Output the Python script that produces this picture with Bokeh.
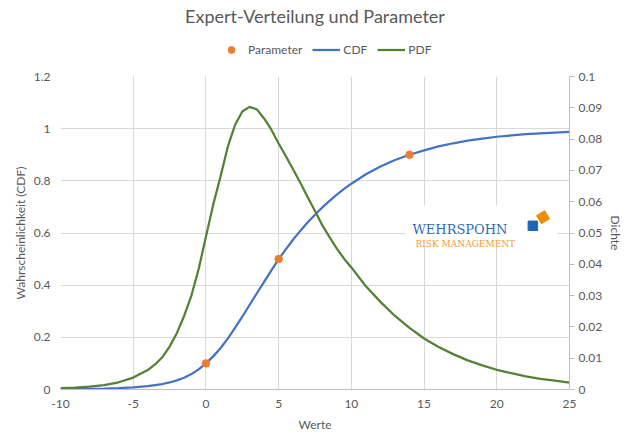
from bokeh.plotting import figure
from bokeh.layouts import column
from bokeh.models import (Range1d, LinearAxis, FixedTicker, Legend, LegendItem,
                          Label, BoxAnnotation)
from bokeh.embed import file_html
from bokeh.resources import INLINE

# ---------------- data ----------------
x_vals = [-10, -9, -8, -7, -6, -5, -4, -3.5, -3, -2.5, -2, -1.5, -1, -0.5, 0, 0.5,
          1, 1.5, 2, 2.5, 3, 3.5, 4, 4.5, 5, 5.5, 6, 6.5, 7, 7.5, 8, 8.5, 9, 9.5,
          10, 11, 12, 13, 14, 15, 16, 17, 18, 19, 20, 21, 22, 23, 24, 25]
cdf_vals = [0.001, 0.0015, 0.0022, 0.0033, 0.005, 0.008, 0.013, 0.017, 0.021, 0.027,
            0.035, 0.045, 0.059, 0.077, 0.100, 0.127, 0.158, 0.195, 0.236, 0.279,
            0.324, 0.369, 0.413, 0.457, 0.500, 0.538, 0.575, 0.609, 0.641, 0.670,
            0.698, 0.723, 0.747, 0.769, 0.789, 0.825, 0.855, 0.880, 0.900, 0.917,
            0.932, 0.944, 0.954, 0.962, 0.969, 0.974, 0.979, 0.982, 0.985, 0.988]
pdf_vals = [0.0004, 0.0006, 0.0009, 0.0014, 0.0023, 0.0038, 0.0062, 0.0080, 0.0103,
            0.0137, 0.0180, 0.0235, 0.0300, 0.0385, 0.0488, 0.0590, 0.0680, 0.0775,
            0.0845, 0.0888, 0.0903, 0.0895, 0.0866, 0.0830, 0.0786, 0.0745, 0.0703,
            0.0660, 0.0614, 0.0570, 0.0525, 0.0487, 0.0450, 0.0418, 0.0390, 0.0330,
            0.0280, 0.0235, 0.0197, 0.0163, 0.0136, 0.0113, 0.0093, 0.0077, 0.0063,
            0.0052, 0.0042, 0.0034, 0.0028, 0.0022]
param_x = [0, 5, 14]
param_y = [0.1, 0.5, 0.9]

x_ticks = [-10, -5, 0, 5, 10, 15, 20, 25]
x_tick_labels = ["-10", "-5", "0", "5", "10", "15", "20", "25"]
y_ticks = [0, 0.2, 0.4, 0.6, 0.8, 1.0, 1.2]
y_tick_labels = ["0", "0.2", "0.4", "0.6", "0.8", "1", "1.2"]
y2_ticks = [0, 0.01, 0.02, 0.03, 0.04, 0.05, 0.06, 0.07, 0.08, 0.09, 0.1]
y2_tick_labels = ["0", "0.01", "0.02", "0.03", "0.04", "0.05", "0.06", "0.07",
                  "0.08", "0.09", "0.1"]

FONT = "Lato"
TXT = "#595959"
GRID = "#d9d9d9"
C_CDF = "#4472c4"
C_PDF = "#548235"
C_PAR = "#ed7d31"

W = 628

# ---------------- header: title + legend ----------------
top = figure(width=W, height=68, output_backend="svg", toolbar_location=None,
             x_axis_type=None, y_axis_type=None,
             x_range=Range1d(0, 1), y_range=Range1d(0, 1))
top.min_border_left = top.min_border_right = 0
top.min_border_top = top.min_border_bottom = 0
top.outline_line_color = None
top.grid.visible = False
top.title.text = "Expert-Verteilung und Parameter"
top.title.align = "center"
top.title.text_font = FONT
top.title.text_font_size = "18px"
top.title.text_font_style = "normal"
top.title.text_color = TXT
top.title.standoff = 4

# legend samples (kept outside the visible header range)
l_par = top.scatter([5], [5], marker="circle", size=7.5, color=C_PAR)
l_cdf = top.line([5, 6], [5, 5], line_color=C_CDF, line_width=2.25)
l_pdf = top.line([5, 6], [5, 5], line_color=C_PDF, line_width=2.25)
legend = Legend(items=[LegendItem(label="Parameter", renderers=[l_par]),
                       LegendItem(label="CDF", renderers=[l_cdf]),
                       LegendItem(label="PDF", renderers=[l_pdf])],
                orientation="horizontal", location=(157, 10))
legend.label_text_font = FONT
legend.label_text_font_size = "12px"
legend.label_text_color = TXT
legend.glyph_width = 28
legend.glyph_height = 17
legend.label_height = 17
legend.label_standoff = 3
legend.spacing = 10
legend.padding = 2
legend.margin = 0
legend.border_line_color = None
legend.background_fill_alpha = 0
top.add_layout(legend, "center")

# ---------------- main chart ----------------
p = figure(width=W, height=372, output_backend="svg", toolbar_location=None,
           x_range=Range1d(-10, 25), y_range=Range1d(0, 1.2))
p.extra_y_ranges = {"dens": Range1d(0, 0.1)}
p.min_border_left = 60
p.min_border_right = 59
p.min_border_top = 8
p.min_border_bottom = 51
p.outline_line_color = None

xa = p.xaxis[0]
xa.ticker = FixedTicker(ticks=x_ticks)
xa.major_label_overrides = {t: l for t, l in zip(x_ticks, x_tick_labels)}
xa.axis_label = "Werte"
ya = p.yaxis[0]
ya.ticker = FixedTicker(ticks=y_ticks)
ya.major_label_overrides = {t: l for t, l in zip(y_ticks, y_tick_labels)}
ya.axis_label = "Wahrscheinlichkeit (CDF)"
ya2 = LinearAxis(y_range_name="dens", axis_label="Dichte",
                 ticker=FixedTicker(ticks=y2_ticks))
ya2.major_label_overrides = {t: l for t, l in zip(y2_ticks, y2_tick_labels)}
p.add_layout(ya2, "right")

for ax in (xa, ya, ya2):
    ax.major_label_text_font = FONT
    ax.major_label_text_font_size = "12px"
    ax.major_label_text_color = TXT
    ax.axis_label_text_font = FONT
    ax.axis_label_text_font_size = "12px"
    ax.axis_label_text_font_style = "normal"
    ax.axis_label_text_color = TXT
    ax.minor_tick_line_color = None

xa.axis_line_color = "#bfbfbf"
xa.major_tick_line_color = None
xa.major_tick_out = 0
xa.major_tick_in = 0
xa.major_label_standoff = 10
xa.axis_label_standoff = 6
ya.axis_line_color = None
ya.major_tick_line_color = None
ya.major_tick_out = 0
ya.major_tick_in = 0
ya.major_label_standoff = 10
ya.axis_label_standoff = 3
ya2.axis_line_color = "#bfbfbf"
ya2.major_tick_line_color = "#bfbfbf"
ya2.major_tick_out = 5
ya2.major_tick_in = 0
ya2.major_label_standoff = 4
ya2.axis_label_standoff = 3

p.xgrid.ticker = FixedTicker(ticks=x_ticks)
p.ygrid.ticker = FixedTicker(ticks=y_ticks)
p.xgrid.grid_line_color = GRID
p.ygrid.grid_line_color = GRID

# logo (white box behind it)
p.add_layout(BoxAnnotation(left=13.72, right=24.17, bottom=0.548, top=0.705,
                           fill_color="white", fill_alpha=1, line_color=None,
                           level="underlay"))
p.add_layout(Label(x=14.2, y=0.612, text="WEHRSPOHN", text_font="DejaVu Serif",
                   text_font_size="13px", text_color="#2f6db5",
                   text_baseline="alphabetic"))
p.add_layout(Label(x=14.41, y=0.5586, text="RISK MANAGEMENT", text_font="DejaVu Serif",
                   text_font_size="9px", text_color="#f39a3a",
                   text_baseline="alphabetic"))
p.scatter([22.48], [0.6276], marker="square", size=9.5, color="#1f64b8")
p.scatter([23.18], [0.6606], marker="square", size=9.5, angle=0.55, color="#f08c00")

# data series
p.line(x_vals, cdf_vals, line_color=C_CDF, line_width=2.25)
p.line(x_vals, pdf_vals, line_color=C_PDF, line_width=2.25, y_range_name="dens")
p.scatter(param_x, param_y, marker="circle", size=7.5, color=C_PAR)

layout = column(top, p, spacing=0)
open("out.html", "w").write(file_html(layout, INLINE))
